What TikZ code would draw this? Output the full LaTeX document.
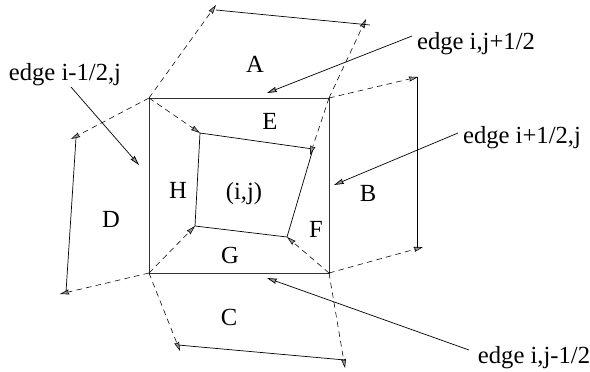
\documentclass[tikz,border=0pt]{standalone}
\usepackage{fontspec}
\setmainfont{Liberation Serif}
\usetikzlibrary{arrows.meta}
\tikzstyle{celllabel}=[inner sep=0pt, font=\fontsize{17.5}{20}\selectfont]
\tikzstyle{solidedge}=[line width=0.5pt]
\tikzstyle{facearrow}=[-{Stealth[length=6.5pt, width=3.6pt, inset=0.6pt, fill=black!40]}, dash pattern=on 4pt off 3pt, line width=0.4pt]
\tikzstyle{leader}=[-{Stealth[length=7pt, width=3.8pt, inset=0.6pt, fill=black!40]}, line width=0.5pt]
\begin{document}
\begin{tikzpicture}[x=0.025cm, y=-0.025cm]
    \useasboundingbox (0, 0) rectangle (590, 371);

    % Outer square
    \coordinate (otl) at (149, 98);
    \coordinate (otr) at (329, 98);
    \coordinate (obr) at (329, 273);
    \coordinate (obl) at (149, 273);
    \draw[solidedge, color=black!80] (otl) -- (otr) -- (obr) -- (obl) -- cycle;

    % Inner cell
    \coordinate (itl) at (200, 133);
    \coordinate (itr) at (313, 149);
    \coordinate (ibr) at (287, 237);
    \coordinate (ibl) at (195, 226);
    \draw[solidedge] (itl) -- (itr) -- (ibr) -- (ibl) -- cycle;
    \coordinate (itrd) at (310, 155);
    \draw[facearrow] (otl) -- (itl);
    \draw[facearrow] (otr) -- (itrd);
    \draw[facearrow] (obr) -- (ibr);
    \draw[facearrow] (obl) -- (ibl);

    % Face A
    \coordinate (atl) at (216, 5);
    \coordinate (atr) at (366, 19);
    \coordinate (asl) at (216, 10);
    \coordinate (asr) at (370, 25);
    \draw[facearrow] (otl) -- (atl);
    \draw[facearrow] (otr) -- (atr);
    \draw[solidedge] (asl) -- (asr);

    % Face B
    \coordinate (btr) at (418, 77);
    \coordinate (bbr) at (423, 247);
    \coordinate (bst) at (417, 77);
    \coordinate (bsb) at (417, 248);
    \draw[facearrow] (otr) -- (btr);
    \draw[facearrow] (obr) -- (bbr);
    \draw[solidedge] (bst) -- (bsb);

    % Face C
    \coordinate (cbl) at (180, 351);
    \coordinate (cbr) at (345, 368);
    \coordinate (csl) at (178, 345);
    \coordinate (csr) at (345, 360);
    \draw[facearrow] (obl) -- (cbl);
    \draw[facearrow] (obr) -- (cbr);
    \draw[solidedge] (csl) -- (csr);

    % Face D
    \coordinate (dtl) at (71, 139);
    \coordinate (dbl) at (60, 294);
    \coordinate (dst) at (76, 138);
    \coordinate (dsb) at (66, 292);
    \draw[facearrow] (otl) -- (dtl);
    \draw[facearrow] (obl) -- (dbl);
    \draw[solidedge] (dst) -- (dsb);

    % Labels
    \node[celllabel] (la) at (255, 64) {A};
    \node[celllabel] (lb) at (368, 193) {B};
    \node[celllabel] (lc) at (229, 317) {C};
    \node[celllabel] (ld) at (111, 219) {D};
    \node[celllabel] (le) at (270, 121) {E};
    \node[celllabel] (lf) at (316, 229) {F};
    \node[celllabel] (lg) at (230, 255) {G};
    \node[celllabel] (lh) at (178, 190) {H};
    \node[celllabel] (lij) at (244, 194) {(i,j)};

    % Edge labels
    \node[celllabel] (west) at (65, 75) {edge i-1/2,j};
    \node[celllabel] (north) at (476, 44) {edge i,j+1/2};
    \node[celllabel] (east) at (522, 138) {edge i+1/2,j};
    \node[celllabel] (south) at (534, 358) {edge i,j-1/2};

    % Leaders
    \coordinate (wfrom) at (71, 87);
    \coordinate (wto) at (139, 165);
    \coordinate (nfrom) at (412, 36);
    \coordinate (nto) at (267, 93);
    \coordinate (efrom) at (458, 133);
    \coordinate (eto) at (334, 185);
    \coordinate (sfrom) at (469, 350);
    \coordinate (sto) at (267, 278);
    \draw[leader] (wfrom) -- (wto);
    \draw[leader] (nfrom) -- (nto);
    \draw[leader] (efrom) -- (eto);
    \draw[leader] (sfrom) -- (sto);
\end{tikzpicture}
\end{document}
